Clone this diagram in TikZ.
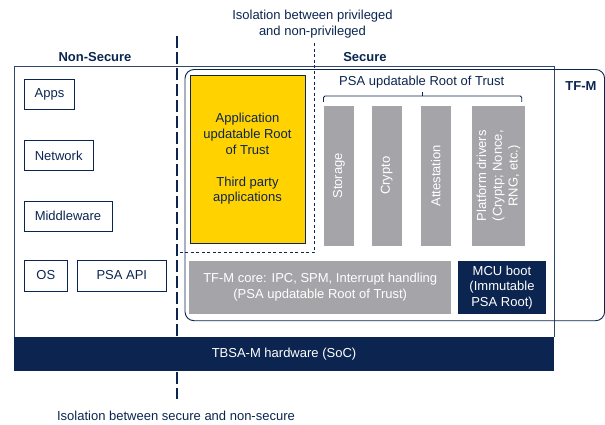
\documentclass[tikz,border=0pt]{standalone}
\usepackage{fontspec}
\setmainfont{Liberation Sans}
\definecolor{navy}{HTML}{0B2550}
\definecolor{styellow}{HTML}{FFD200}
\definecolor{stgray}{HTML}{A5A4A9}
\begin{document}
\begin{tikzpicture}[x=1pt,y=-1pt,
  font=\fontsize{13}{15.8}\selectfont, text=navy,
  nsbox/.style={draw=navy, line width=0.9pt, inner sep=0pt, minimum height=30pt},
  graycol/.style={fill=stgray, inner sep=0pt, minimum height=139.6pt, text=white},
  graytext/.style={rotate=90, text=white, align=center},
  darkbox/.style={fill=navy, text=white, align=center, inner sep=0pt},
  hdr/.style={font=\fontsize{13}{15.8}\selectfont\bfseries, text=navy}]
\useasboundingbox (0,0) rectangle (605,424);

% outer frame
\draw[navy!85, line width=0.7pt] (14,337) -- (14,66) -- (554,66) -- (554,337);
% TF-M rounded box
\draw[navy, line width=0.9pt, rounded corners=9pt] (185,69.5) rectangle (604.6,320.7);

% non-secure boxes
\node[nsbox, minimum width=50.5pt] (apps) at (49.5,94) {Apps};
\node[nsbox, minimum width=69.4pt] (net) at (58.7,155.8) {Network};
\node[nsbox, minimum width=88pt] (mid) at (68,216) {Middleware};
\node[nsbox, minimum width=43.5pt, minimum height=31pt] (os) at (45.8,275.5) {OS};
\node[nsbox, minimum width=88.5pt, minimum height=31pt] (psaapi) at (121.8,275.5) {PSA API};

% yellow box
\node[draw=navy, line width=0.7pt, fill=styellow, minimum width=115pt, minimum height=168pt,
  inner sep=0pt, align=center] (app) at (247.5,159)
  {Application\\updatable Root\\of Trust\\[15.8pt]Third party\\applications};

% gray columns
\node[graycol, minimum width=30pt] (stor) at (339,175.8) {};
\node[graytext] at (stor.center) {Storage};
\node[graycol, minimum width=30.5pt] (cry) at (386.75,175.8) {};
\node[graytext] at (cry.center) {Crypto};
\node[graycol, minimum width=30.5pt] (att) at (435.75,175.8) {};
\node[graytext] at (att.center) {Attestation};
\node[graycol, minimum width=53pt] (plat) at (498.5,175.8) {};
\node[graytext] at (plat.center) {Platform drivers\\(Cryptp; Nonce,\\RNG, etc.)};

% PSA label + bracket
\node (psarot) at (421.7,82.5) {PSA updatable Root of Trust};
\coordinate (bl) at (323.5,101.8);
\coordinate (br) at (521.7,101.8);
\coordinate (bm) at (422.6,91.8);
\draw[navy, line width=0.8pt, rounded corners=1.5pt]
  (bl) -- (323.5,96) -- (521.7,96) -- (br);
\draw[navy, line width=0.8pt] (bm) -- (422.6,96);

% core and boot
\node[fill=stgray, text=white, align=center, minimum width=262.4pt, minimum height=53pt, inner sep=0pt]
  (core) at (320.2,287.5) {TF-M core: IPC, SPM, Interrupt handling\\(PSA updatable Root of Trust)};
\node[darkbox, minimum width=88pt, minimum height=53pt] (mcu) at (502,287.5) {MCU boot\\(Immutable\\PSA Root)};

% hardware bar
\node[fill=navy, text=white, minimum width=540pt, minimum height=34.5pt, inner sep=0pt]
  (hw) at (284,354.2) {TBSA-M hardware (SoC)};

% isolation lines
\coordinate (t1) at (314.5,43);
\coordinate (t2) at (314.5,252);
\coordinate (t3) at (177,252);
\draw[navy, line width=0.8pt, dash pattern=on 3pt off 2.5pt] (t1) -- (t2) -- (t3);
\coordinate (i1) at (177,36);
\coordinate (i2) at (177,399);
\draw[navy, line width=2.6pt, dash pattern=on 12pt off 4pt] (i1) -- (i2);

% labels
\node[align=center] (isopriv) at (312.5,24.5) {Isolation between privileged\\and non-privileged};
\node[hdr] (ns) at (95,57) {Non-Secure};
\node[hdr] (sec) at (365,57) {Secure};
\node[hdr] (tfm) at (581,86) {TF-M};
\node (isosec) at (176,416) {Isolation between secure and non-secure};
\end{tikzpicture}
\end{document}
